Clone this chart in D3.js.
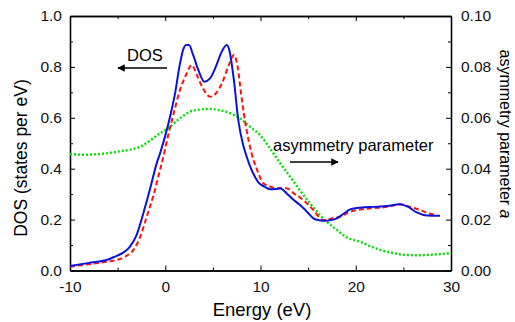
<!DOCTYPE html>
<html>
<head>
<meta charset="utf-8">
<script src="https://cdn.jsdelivr.net/npm/d3@7"></script>
<style>
  body { margin: 0; background: #fff; }
  svg { display: block; font-family: "Liberation Sans", Arial, sans-serif; }
</style>
</head>
<body>
<svg width="515" height="322"></svg>
<script>
// DOS (blue, solid)
const dosE = [-10, -8, -6, -5.45, -4.5, -3.7, -3, -2.3, -1.6, -0.9, -0.55, 0, 0.6, 1.0, 1.55, 1.9, 2.2, 2.5, 2.9, 3.5, 4.1, 4.7, 5.3, 5.9, 6.45, 6.7, 7.2, 7.67, 8.2, 8.55, 8.9, 9.4, 9.8, 10.4, 11.0, 11.6, 12.05, 12.75, 13.4, 14.15, 14.9, 15.55, 16.2, 16.8, 17.4, 18.0, 18.7, 19.4, 20.5, 21.9, 23.3, 24.6, 25.5, 26.4, 27.5, 28.85];
const dosV = [0.018, 0.03, 0.043, 0.052, 0.068, 0.094, 0.14, 0.225, 0.32, 0.421, 0.46, 0.53, 0.62, 0.69, 0.814, 0.87, 0.886, 0.886, 0.85, 0.785, 0.742, 0.755, 0.8, 0.857, 0.886, 0.87, 0.75, 0.59, 0.49, 0.447, 0.41, 0.369, 0.345, 0.33, 0.319, 0.32, 0.323, 0.303, 0.28, 0.257, 0.23, 0.205, 0.197, 0.195, 0.198, 0.205, 0.222, 0.24, 0.247, 0.25, 0.253, 0.26, 0.25, 0.228, 0.216, 0.215];

// DOS (red, dashed)
const dos2E = [-10, -8, -6, -5.1, -4.2, -3.35, -2.6, -1.95, -1.2, -0.55, -0.37, 0.3, 0.9, 1.55, 2.2, 2.77, 3.3, 3.9, 4.7, 5.4, 6.0, 6.6, 7.22, 7.6, 8.0, 8.5, 9.07, 9.6, 10.3, 11.0, 11.7, 12.75, 13.6, 14.5, 15.5, 16.6, 17.6, 18.35, 19.2, 20.5, 21.9, 23.3, 24.65, 25.7, 26.75, 27.6, 28.5];
const dos2V = [0.015, 0.025, 0.035, 0.041, 0.055, 0.08, 0.135, 0.211, 0.3, 0.395, 0.42, 0.53, 0.62, 0.709, 0.77, 0.807, 0.77, 0.72, 0.683, 0.7, 0.74, 0.8, 0.847, 0.8, 0.683, 0.56, 0.46, 0.4, 0.343, 0.33, 0.323, 0.323, 0.3, 0.277, 0.24, 0.198, 0.205, 0.211, 0.228, 0.24, 0.245, 0.25, 0.26, 0.25, 0.238, 0.225, 0.218];

// asymmetry parameter (green, dotted)
const asyE = [-10, -8.5, -6.85, -5, -2.65, -0.55, 0.5, 1.55, 2.6, 3.6, 4.7, 5.8, 6.8, 7.9, 8.9, 10, 11.0, 12.0, 13.1, 14.1, 15.2, 16.0, 16.95, 18.0, 19.05, 20.45, 21.5, 22.55, 24.0, 25.35, 26.5, 27.45, 28.7, 29.9];
const asyV = [0.0458, 0.0455, 0.0458, 0.0467, 0.0486, 0.0539, 0.0565, 0.0598, 0.0624, 0.0632, 0.0635, 0.0629, 0.0618, 0.0596, 0.0565, 0.053, 0.048, 0.0425, 0.0369, 0.0317, 0.0264, 0.0228, 0.0192, 0.016, 0.013, 0.0113, 0.0096, 0.0081, 0.0068, 0.0061, 0.006, 0.0061, 0.0064, 0.0068];

const xTicks = [-10, 0, 10, 20, 30];
const yTicks = [0, 0.2, 0.4, 0.6, 0.8, 1.0];
const y2Ticks = [0, 0.02, 0.04, 0.06, 0.08, 0.10];

const svg = d3.select("svg");
const L = 70, R = 451, T = 16, B = 270.5;

const x = d3.scaleLinear().domain([-10, 30]).range([L, R]);
const y = d3.scaleLinear().domain([0, 1]).range([B, T]);
const y2 = d3.scaleLinear().domain([0, 0.1]).range([B, T]);

// axes (ticks pointing inward)
const fmt1 = d3.format(".1f"), fmt2 = d3.format(".2f");
const fmtX = d => String(d); // plain hyphen for negatives
const minorX = d3.range(-5, 30, 10), minorY = d3.range(0.1, 1, 0.2), minorY2 = d3.range(0.01, 0.1, 0.02);

function axisG(axis, tr) {
  const g = svg.append("g").attr("transform", tr).call(axis);
  g.select(".domain").attr("stroke", "#000").attr("stroke-width", 1.3);
  g.selectAll(".tick line").attr("stroke", "#000").attr("stroke-width", 1);
  g.selectAll("text").attr("font-size", 15.5).attr("fill", "#111");
  return g;
}
axisG(d3.axisBottom(x).tickValues(xTicks).tickSize(-5).tickPadding(10).tickFormat(fmtX).tickSizeOuter(0), `translate(0,${B})`);
axisG(d3.axisBottom(x).tickValues(minorX).tickSize(-3).tickFormat("").tickSizeOuter(0), `translate(0,${B})`);
axisG(d3.axisTop(x).tickValues(xTicks).tickSize(-5).tickFormat("").tickSizeOuter(0), `translate(0,${T})`);
axisG(d3.axisTop(x).tickValues(minorX).tickSize(-3).tickFormat("").tickSizeOuter(0), `translate(0,${T})`);
axisG(d3.axisLeft(y).tickValues(yTicks).tickSize(-5).tickPadding(8).tickFormat(fmt1).tickSizeOuter(0), `translate(${L},0)`);
axisG(d3.axisLeft(y).tickValues(minorY).tickSize(-3).tickFormat("").tickSizeOuter(0), `translate(${L},0)`);
axisG(d3.axisRight(y2).tickValues(y2Ticks).tickSize(-5).tickPadding(10).tickFormat(fmt2).tickSizeOuter(0), `translate(${R},0)`);
axisG(d3.axisRight(y2).tickValues(minorY2).tickSize(-3).tickFormat("").tickSizeOuter(0), `translate(${R},0)`);

// curves
const line = (sx, sy) => d3.line().x(d => sx(d[0])).y(d => sy(d[1])).curve(d3.curveMonotoneX);
svg.append("path").datum(d3.zip(asyE, asyV)).attr("d", line(x, y2))
  .attr("fill", "none").attr("stroke", "#00e000").attr("stroke-width", 2.4).attr("stroke-dasharray", "2,2");
svg.append("path").datum(d3.zip(dos2E, dos2V)).attr("d", line(x, y))
  .attr("fill", "none").attr("stroke", "#ff1010").attr("stroke-width", 2).attr("stroke-dasharray", "5,3");
svg.append("path").datum(d3.zip(dosE, dosV)).attr("d", line(x, y))
  .attr("fill", "none").attr("stroke", "#0a14d8").attr("stroke-width", 2);

// labels
svg.append("text").attr("x", 262).attr("y", 316).attr("text-anchor", "middle").attr("font-size", 18.5).text("Energy (eV)");
svg.append("text").attr("transform", `translate(27,158) rotate(-90)`).attr("text-anchor", "middle").attr("font-size", 17.5).text("DOS (states per eV)");
const rt = svg.append("text").attr("transform", `translate(500,134) rotate(90)`).attr("text-anchor", "middle").attr("font-size", 16);
rt.append("tspan").text("asymmetry parameter ");
rt.append("tspan").attr("font-style", "italic").text("a");

// annotations
svg.append("defs").append("marker").attr("id", "ah").attr("viewBox", "0 0 10 10").attr("refX", 9).attr("refY", 5)
  .attr("markerWidth", 5).attr("markerHeight", 5).attr("orient", "auto")
  .append("path").attr("d", "M0,0L10,5L0,10Z").attr("fill", "#000");
svg.append("text").attr("x", 145).attr("y", 61).attr("text-anchor", "middle").attr("font-size", 16.5).text("DOS");
svg.append("line").attr("x1", 167).attr("y1", 68).attr("x2", 118).attr("y2", 68)
  .attr("stroke", "#000").attr("stroke-width", 1.5).attr("marker-end", "url(#ah)");
svg.append("text").attr("x", 273).attr("y", 151).attr("font-size", 16.5).text("asymmetry parameter");
svg.append("line").attr("x1", 290).attr("y1", 162).attr("x2", 338).attr("y2", 162)
  .attr("stroke", "#000").attr("stroke-width", 1.5).attr("marker-end", "url(#ah)");
</script>
</body>
</html>
